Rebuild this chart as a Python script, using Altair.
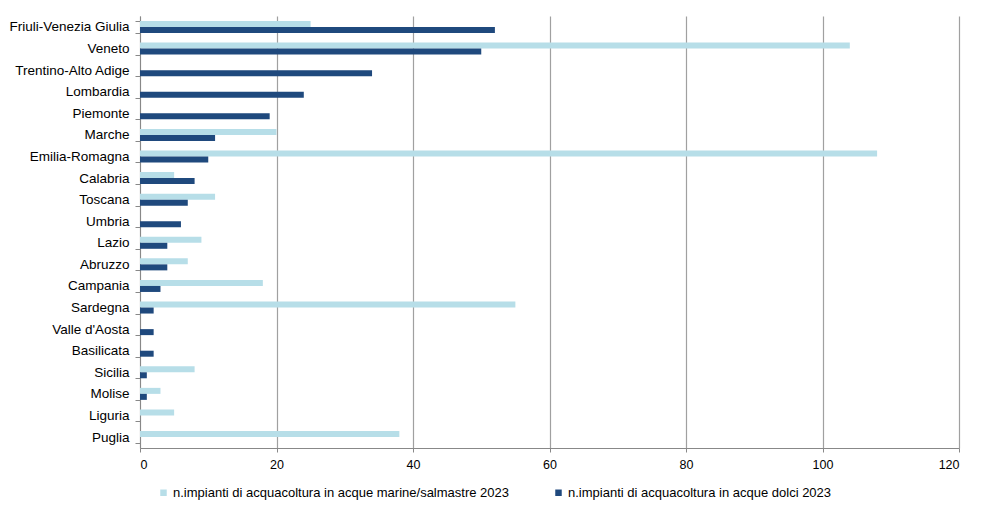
import altair as alt
import pandas as pd

regions = ["Friuli-Venezia Giulia", "Veneto", "Trentino-Alto Adige", "Lombardia", "Piemonte",
           "Marche", "Emilia-Romagna", "Calabria", "Toscana", "Umbria", "Lazio", "Abruzzo",
           "Campania", "Sardegna", "Valle d'Aosta", "Basilicata", "Sicilia", "Molise",
           "Liguria", "Puglia"]
marine = [25, 104, 0, 0, 0, 20, 108, 5, 11, 0, 9, 7, 18, 55, 0, 0, 8, 3, 5, 38]
fresh = [52, 50, 34, 24, 19, 11, 10, 8, 7, 6, 4, 4, 3, 2, 2, 2, 1, 1, 0, 0]
x_ticks = [0, 20, 40, 60, 80, 100, 120]

s_marine = "n.impianti di acquacoltura in acque marine/salmastre 2023"
s_fresh = "n.impianti di acquacoltura in acque dolci 2023"
series_order = [s_marine, s_fresh]

rows = []
for r, m, f in zip(regions, marine, fresh):
    if m > 0:
        rows.append({"region": r, "series": s_marine, "value": m})
    if f > 0:
        rows.append({"region": r, "series": s_fresh, "value": f})
df = pd.DataFrame(rows)

FONT = "Liberation Sans"

chart = alt.Chart(df).mark_bar().encode(
    x=alt.X("value:Q", scale=alt.Scale(domain=[0, 120], nice=False),
            axis=alt.Axis(values=x_ticks, title=None, grid=True,
                          gridColor="#A0A0A0", gridWidth=1.2, domainColor="#888888",
                          tickColor="#888888", tickSize=4, labelPadding=6,
                          labelFontSize=12.5, labelColor="#000000", labelFont=FONT)),
    y=alt.Y("region:N", sort=regions,
            scale=alt.Scale(paddingInner=0.444, paddingOuter=0.23),
            axis=alt.Axis(title=None, tickBand="extent", domainColor="#888888",
                          tickColor="#888888", tickSize=5, labelPadding=6,
                          labelFontSize=13.5, labelColor="#000000", labelFont=FONT,
                          labelLimit=300)),
    yOffset=alt.YOffset("series:N", sort=series_order, scale=alt.Scale(paddingInner=0)),
    color=alt.Color("series:N", sort=series_order,
                    scale=alt.Scale(domain=series_order, range=["#B7DEE8", "#1F497D"]),
                    legend=alt.Legend(title=None, orient="none", direction="horizontal",
                                      legendX=17, legendY=470, symbolType="square",
                                      symbolSize=42, symbolStrokeWidth=0, labelFontSize=13,
                                      labelFont=FONT, labelColor="#000000", labelLimit=500,
                                      columnPadding=42, labelOffset=3)),
).properties(
    width=819, height=432,
    padding={"left": 0, "top": 1, "right": 10, "bottom": 5},
).configure_view(stroke=None)

chart.save("out.html", embed_options={"renderer": "svg", "actions": False})
